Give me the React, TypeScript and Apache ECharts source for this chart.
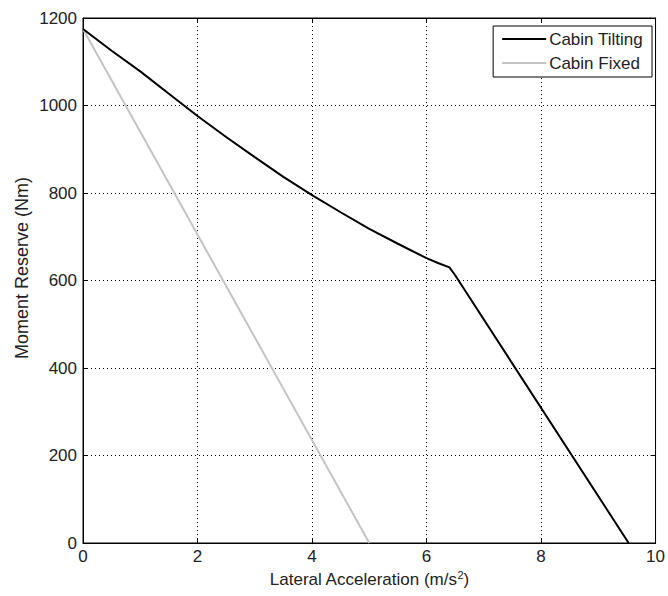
import React, { useEffect, useRef } from "react";
import * as echarts from "echarts";

const tiltX = [0, 0.5, 1, 1.5, 2, 2.5, 3, 3.5, 4, 4.5, 5, 5.5, 6, 6.2, 6.4, 6.5, 9.53];
const tiltY = [1175, 1125, 1078, 1027, 976, 928, 882, 837, 795, 756, 718, 684, 651, 640, 630, 612, 0];
const fixedX = [0, 5.0];
const fixedY = [1175, 0];
const xTicks = [0, 2, 4, 6, 8, 10];
const yTicks = [0, 200, 400, 600, 800, 1000, 1200];
const seriesNames = ["Cabin Tilting", "Cabin Fixed"];

const FONT = "Liberation Sans, Arial, sans-serif";
const TXT = "#222";

export default function App() {
  const ref = useRef<HTMLDivElement>(null);
  useEffect(() => {
    if (!ref.current) return;
    const chart = echarts.init(ref.current, undefined, { renderer: "svg" });
    const tilt = tiltX.map((x, i) => [x, tiltY[i]]);
    const fixed = fixedX.map((x, i) => [x, fixedY[i]]);
    const grid = { left: 83, right: 10, top: 18, bottom: 53, show: true, borderColor: "#000", borderWidth: 1, backgroundColor: "#fff" };
    const tickCommon = { show: true, inside: true, length: 5, lineStyle: { color: "#000", width: 1 } };
    chart.setOption({
      animation: false,
      backgroundColor: "#fff",
      grid,
      legend: {
        orient: "vertical",
        right: 16,
        top: 26,
        padding: [3, 9, 4, 9],
        itemGap: 4,
        itemWidth: 44,
        itemHeight: 2,
        icon: "rect",
        backgroundColor: "#fff",
        borderColor: "#000",
        borderWidth: 1,
        borderRadius: 0,
        textStyle: { fontFamily: FONT, fontSize: 17, color: TXT, lineHeight: 20, padding: [0, 0, 0, -2] },
        data: seriesNames,
      },
      xAxis: [
        {
          type: "value",
          min: xTicks[0],
          max: xTicks[xTicks.length - 1],
          interval: 2,
          axisLine: { show: true, onZero: false, lineStyle: { color: "#000", width: 1 } },
          axisTick: tickCommon,
          axisLabel: { fontFamily: FONT, fontSize: 17, color: TXT, margin: 5, formatter: (v: number) => String(v) },
          splitLine: { show: true, lineStyle: { color: "#000", type: [1, 3], width: 1 } },
          name: "Lateral Acceleration (m/s{sup|2})",
          nameLocation: "middle",
          nameGap: 26,
          nameTextStyle: {
            fontFamily: FONT,
            fontSize: 17,
            color: TXT,
            rich: {
              sup: { fontFamily: FONT, fontSize: 11, color: TXT, verticalAlign: "top", padding: [0, 0, 9, 0] },
            },
          },
        },
        {
          type: "value",
          position: "top",
          min: xTicks[0],
          max: xTicks[xTicks.length - 1],
          interval: 2,
          axisLine: { show: true, onZero: false, lineStyle: { color: "#000", width: 1 } },
          axisTick: tickCommon,
          axisLabel: { show: false },
          splitLine: { show: false },
        },
      ],
      yAxis: [
        {
          type: "value",
          min: yTicks[0],
          max: yTicks[yTicks.length - 1],
          interval: 200,
          axisLine: { show: true, onZero: false, lineStyle: { color: "#000", width: 1 } },
          axisTick: tickCommon,
          axisLabel: { fontFamily: FONT, fontSize: 17, color: TXT, margin: 6, formatter: (v: number) => String(v) },
          splitLine: { show: true, lineStyle: { color: "#000", type: [1, 3], width: 1 } },
        },
        {
          type: "value",
          position: "right",
          min: yTicks[0],
          max: yTicks[yTicks.length - 1],
          interval: 200,
          axisLine: { show: true, onZero: false, lineStyle: { color: "#000", width: 1 } },
          axisTick: tickCommon,
          axisLabel: { show: false },
          splitLine: { show: false },
        },
      ],
      graphic: [
        {
          type: "text",
          x: 22,
          y: 268,
          rotation: Math.PI / 2,
          style: { text: "Moment Reserve (Nm)", fontFamily: FONT, fontSize: 18, fill: TXT, align: "center", verticalAlign: "middle" },
        },
      ],
      series: [
        {
          name: seriesNames[0],
          type: "line",
          data: tilt,
          showSymbol: false,
          symbol: "none",
          lineStyle: { color: "#000", width: 2 },
          itemStyle: { color: "#000" },
          z: 3,
        },
        {
          name: seriesNames[1],
          type: "line",
          data: fixed,
          showSymbol: false,
          symbol: "none",
          lineStyle: { color: "#c4c4c4", width: 2 },
          itemStyle: { color: "#c4c4c4" },
          z: 2,
        },
      ],
    });
    return () => chart.dispose();
  }, []);
  return <div ref={ref} style={{ width: 668, height: 596, position: "absolute", left: 0, top: 0 }} />;
}
